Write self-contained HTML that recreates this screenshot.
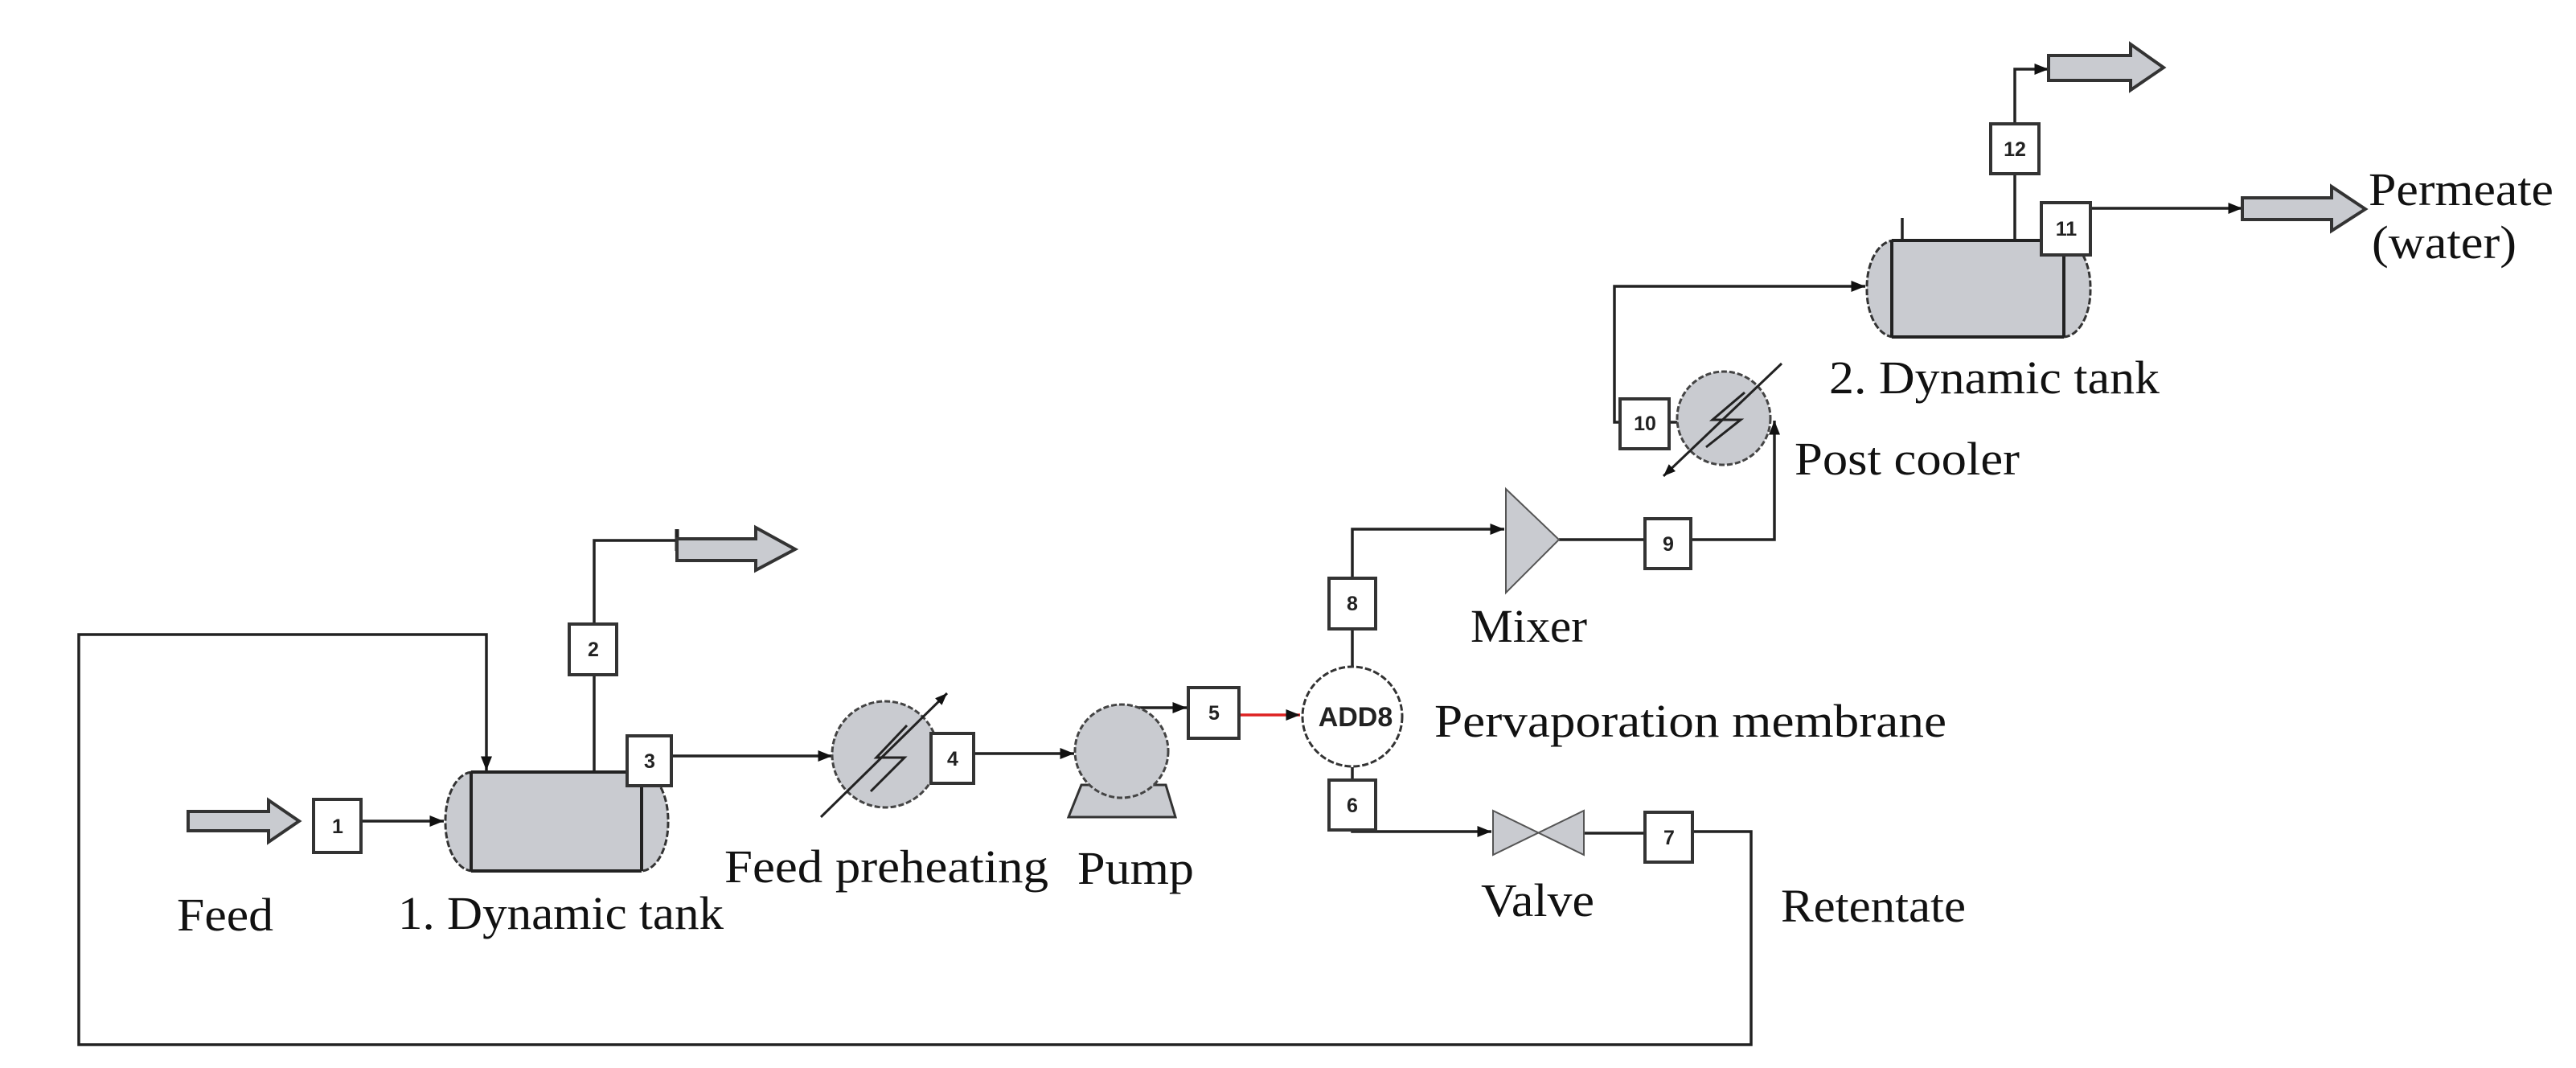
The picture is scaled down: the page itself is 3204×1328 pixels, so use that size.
<!DOCTYPE html>
<html><head><meta charset="utf-8"><style>
html,body{margin:0;padding:0;background:#fff;}
svg{display:block;}
.t{font-family:"Liberation Serif",serif;font-size:58px;fill:#111;}
.b{font-family:"Liberation Sans",sans-serif;font-weight:bold;font-size:25px;fill:#222;}
</style></head><body>
<svg width="3204" height="1328" viewBox="0 0 3204 1328" xmlns="http://www.w3.org/2000/svg">
<defs>
<marker id="ah" viewBox="0 0 10 10" refX="10" refY="5" markerWidth="6" markerHeight="5" orient="auto" markerUnits="strokeWidth"><path d="M0,1 L10,5 L0,9 z" fill="#111"/></marker>
</defs>
<g fill="none" stroke="#222" stroke-width="3.5">
<polyline points="2105,1034 2178,1034 2178,1299 98,1299 98,789 605,789 605,958" marker-end="url(#ah)"/>
<line x1="449" y1="1021" x2="552" y2="1021" marker-end="url(#ah)"/>
<polyline points="739,960 739,672 842,672"/>
<line x1="842" y1="658" x2="842" y2="685" stroke-width="5"/>
<line x1="835" y1="940" x2="1035" y2="940" marker-end="url(#ah)"/>
<line x1="1211" y1="937" x2="1336" y2="937" marker-end="url(#ah)"/>
<line x1="1406" y1="880" x2="1476" y2="880" marker-end="url(#ah)"/>
<line x1="1541" y1="889" x2="1617" y2="889" stroke="#d22" marker-end="url(#ah)"/>
<polyline points="1682,829 1682,658 1871,658" marker-end="url(#ah)"/>
<line x1="1682" y1="954" x2="1682" y2="970"/>
<polyline points="1682,1032 1682,1034 1855,1034" marker-end="url(#ah)"/>
<line x1="1970" y1="1036" x2="2046" y2="1036"/>
<polyline points="1939,671 2046,671"/>
<polyline points="2103,671 2207,671 2207,523" marker-end="url(#ah)"/>
<line x1="2076" y1="525" x2="2087" y2="525"/>
<polyline points="2015,525 2008,525 2008,356 2320,356" marker-end="url(#ah)"/>
<polyline points="2506,299 2506,86 2548,86" marker-end="url(#ah)"/>
<line x1="2366" y1="271" x2="2366" y2="299"/>
<line x1="2600" y1="259" x2="2789" y2="259" marker-end="url(#ah)"/>
</g>

<g fill="#c9cbd0" stroke="#333" stroke-width="4">
<path d="M234,1009 L334,1009 L334,995 L372,1021 L334,1047 L334,1033 L234,1033 z"/>
<path d="M842,670 L940,670 L940,656 L989,683 L940,709 L940,697 L842,697 z"/>
<path d="M2548,69 L2650,69 L2650,55 L2691,84 L2650,112 L2650,100 L2548,100 z"/>
<path d="M2789,246 L2900,246 L2900,232 L2942,260 L2900,287 L2900,273 L2789,273 z"/>
</g>

<g fill="#c9cbd0" stroke="#333" stroke-width="3">
<rect x="554" y="960" width="277" height="123" rx="34" ry="60" stroke-dasharray="8 3"/>
<rect x="2322" y="299" width="278" height="120" rx="34" ry="58" stroke-dasharray="8 3"/>
</g>
<g stroke="#222" stroke-width="4" fill="none">
<polyline points="586,960 586,1083"/><polyline points="798,960 798,1083"/>
<line x1="586" y1="960" x2="798" y2="960"/><line x1="586" y1="1083" x2="798" y2="1083"/>
<polyline points="2353,299 2353,419"/><polyline points="2567,299 2567,419"/>
<line x1="2353" y1="299" x2="2567" y2="299"/><line x1="2353" y1="419" x2="2567" y2="419"/>
</g>

<circle cx="1101" cy="938" r="66" fill="#c9cbd0" stroke="#444" stroke-width="3" stroke-dasharray="7 3"/>
<polyline points="1128,902 1090,942 1125,942 1083,984" fill="none" stroke="#222" stroke-width="3"/>
<line x1="1021" y1="1016" x2="1178" y2="862" stroke="#222" stroke-width="3" marker-end="url(#ah)"/>
<path d="M1345,976 L1450,976 L1462,1016 L1329,1016 z" fill="#c9cbd0" stroke="#333" stroke-width="3"/>
<circle cx="1395" cy="934" r="58" fill="#c9cbd0" stroke="#444" stroke-width="3" stroke-dasharray="7 3"/>
<circle cx="1682" cy="891" r="62" fill="#fff" stroke="#333" stroke-width="3" stroke-dasharray="8 3"/>
<text x="1686" y="903" text-anchor="middle" font-family="Liberation Sans,sans-serif" font-weight="bold" font-size="34" fill="#222">ADD8</text>
<path d="M1873,608 L1939,671 L1873,737 z" fill="#c9cbd0" stroke="#555" stroke-width="2"/>
<path d="M1857,1008 L1970,1063 L1970,1008 L1857,1063 z" fill="#c9cbd0" stroke="#555" stroke-width="2"/>
<circle cx="2144" cy="520" r="58" fill="#c9cbd0" stroke="#444" stroke-width="3" stroke-dasharray="7 3"/>
<polyline points="2170,488 2130,522 2165,522 2122,556" fill="none" stroke="#222" stroke-width="3"/>
<line x1="2216" y1="452" x2="2069" y2="592" stroke="#222" stroke-width="3" marker-end="url(#ah)"/>

<g fill="#fff" stroke="#333" stroke-width="4">
<rect x="390" y="994" width="59" height="66"/>
<rect x="708" y="776" width="59" height="63"/>
<rect x="780" y="915" width="55" height="62"/>
<rect x="1158" y="912" width="53" height="62"/>
<rect x="1478" y="855" width="63" height="63"/>
<rect x="1653" y="970" width="58" height="62"/>
<rect x="2046" y="1010" width="59" height="62"/>
<rect x="1653" y="719" width="58" height="63"/>
<rect x="2046" y="645" width="57" height="62"/>
<rect x="2015" y="496" width="61" height="62"/>
<rect x="2539" y="252" width="61" height="65"/>
<rect x="2476" y="154" width="60" height="62"/>
</g>
<g class="b" text-anchor="middle">
<text x="420" y="1036">1</text>
<text x="738" y="816">2</text>
<text x="808" y="955">3</text>
<text x="1185" y="952">4</text>
<text x="1510" y="895">5</text>
<text x="1682" y="1010">6</text>
<text x="2076" y="1050">7</text>
<text x="1682" y="759">8</text>
<text x="2075" y="685">9</text>
<text x="2046" y="535">10</text>
<text x="2570" y="293">11</text>
<text x="2506" y="194">12</text>
</g>

<g class="t">
<text x="220" y="1157" textLength="120" lengthAdjust="spacingAndGlyphs">Feed</text>
<text x="495" y="1155" textLength="405" lengthAdjust="spacingAndGlyphs">1. Dynamic tank</text>
<text x="901" y="1097" textLength="403" lengthAdjust="spacingAndGlyphs">Feed preheating</text>
<text x="1340" y="1099" textLength="145" lengthAdjust="spacingAndGlyphs">Pump</text>
<text x="1784" y="916" textLength="637" lengthAdjust="spacingAndGlyphs">Pervaporation membrane</text>
<text x="1829" y="798" textLength="145" lengthAdjust="spacingAndGlyphs">Mixer</text>
<text x="1842" y="1139" textLength="141" lengthAdjust="spacingAndGlyphs">Valve</text>
<text x="2215" y="1146" textLength="230" lengthAdjust="spacingAndGlyphs">Retentate</text>
<text x="2232" y="590" textLength="280" lengthAdjust="spacingAndGlyphs">Post cooler</text>
<text x="2275" y="489" textLength="411" lengthAdjust="spacingAndGlyphs">2. Dynamic tank</text>
<text x="2946" y="255" textLength="230" lengthAdjust="spacingAndGlyphs">Permeate</text>
<text x="2950" y="321" textLength="180" lengthAdjust="spacingAndGlyphs">(water)</text>
</g>
</svg>
</body></html>
